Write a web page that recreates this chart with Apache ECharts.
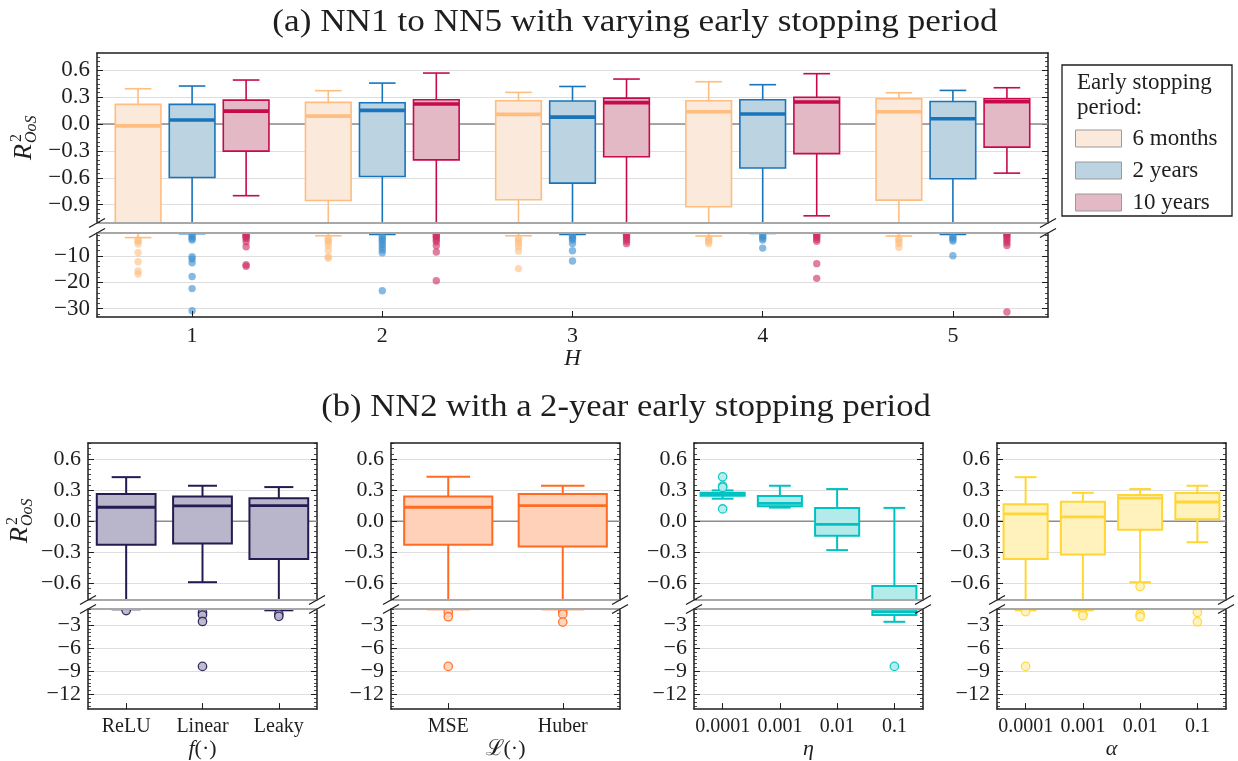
<!DOCTYPE html>
<html>
<head>
<meta charset="utf-8">
<script src="https://cdn.jsdelivr.net/npm/echarts@6/dist/echarts.min.js"></script>
<style>
  html, body { margin: 0; padding: 0; background: #ffffff; }
  #chart { width: 1238px; height: 761px; }
</style>
</head>
<body>
<div id="chart"></div>
<script>
// ---------------- data ----------------
// Box statistics: [lower whisker, Q1, median, Q3, upper whisker]
const H_LABELS = ['1', '2', '3', '4', '5'];

const BOX_6M = [
  [-3.0, -1.30, -0.020, 0.220, 0.395],
  [-2.3, -0.854, 0.089, 0.242, 0.373],
  [-2.3, -0.846, 0.108, 0.260, 0.354],
  [-2.4, -0.924, 0.138, 0.260, 0.473],
  [-2.4, -0.850, 0.138, 0.283, 0.350]
];
const BOX_2Y = [
  [-1.5, -0.596, 0.045, 0.220, 0.425],
  [-1.8, -0.585, 0.153, 0.239, 0.458],
  [-1.8, -0.660, 0.078, 0.257, 0.420],
  [-1.4, -0.490, 0.112, 0.272, 0.440],
  [-1.8, -0.610, 0.060, 0.253, 0.376]
];
const BOX_10Y = [
  [-0.800, -0.302, 0.145, 0.268, 0.492],
  [-1.30, -0.400, 0.224, 0.272, 0.570],
  [-1.30, -0.365, 0.240, 0.290, 0.503],
  [-1.025, -0.330, 0.246, 0.300, 0.563],
  [-0.548, -0.257, 0.250, 0.283, 0.406]
];

// Outliers per H
const OUT_6M = [
  [-3.9, -4.4, -5.4, -8.7, -12.2, -15.7, -16.8],
  [-3.3, -4.0, -4.8, -5.9, -7.8, -10.3, -10.8],
  [-3.3, -4.2, -5.2, -6.5, -8.1, -14.8],
  [-3.3, -3.8, -4.5, -5.3],
  [-3.3, -4.2, -5.2, -6.7]
];
const OUT_2Y = [
  [-2.0, -2.6, -3.3, -3.9, -10.3, -11.1, -12.6, -17.8, -22.4, -30.8],
  [-2.3, -3.0, -3.8, -4.6, -5.6, -6.6, -7.6, -8.8, -23.2],
  [-2.2, -2.7, -3.3, -3.9, -5.2, -8.0, -11.9],
  [-1.9, -2.5, -3.2, -3.9, -7.0],
  [-2.3, -2.9, -3.6, -4.3, -9.9]
];
const OUT_10Y = [
  [-1.3, -1.7, -2.1, -2.6, -3.0, -3.4, -4.6, -6.5, -13.3, -13.9],
  [-1.6, -2.0, -2.5, -3.1, -3.8, -4.6, -6.1, -8.5, -19.4],
  [-1.5, -1.9, -2.4, -2.9, -3.6, -4.4, -5.3],
  [-1.3, -1.8, -2.3, -2.9, -3.6, -4.4, -12.9, -18.5],
  [-1.3, -1.6, -2.0, -2.6, -3.3, -4.1, -5.0, -6.0, -31.3]
];

// NN2, 2-year early stopping: activation, loss, learning rate, regularisation
const ACT_LABELS = ['ReLU', 'Linear', 'Leaky'];
const ACT_BOX = [
  [-0.97, -0.227, 0.134, 0.262, 0.425],
  [-0.59, -0.217, 0.147, 0.239, 0.342],
  [-1.10, -0.367, 0.150, 0.220, 0.329]
];
const ACT_OUT = [[-1.14], [-1.39, -1.72, -2.55, -8.37], [-1.6, -1.89]];

const LOSS_LABELS = ['MSE', 'Huber'];
const LOSS_BOX = [
  [-0.97, -0.227, 0.134, 0.239, 0.428],
  [-0.97, -0.246, 0.150, 0.262, 0.342]
];
const LOSS_OUT = [[-1.39, -1.93, -8.37], [-1.27, -1.6, -2.63]];

const LR_LABELS = ['0.0001', '0.001', '0.01', '0.1'];
const LR_BOX = [
  [0.217, 0.246, 0.262, 0.274, 0.297],
  [0.131, 0.144, 0.172, 0.243, 0.342],
  [-0.280, -0.140, -0.032, 0.128, 0.310],
  [-2.59, -1.72, -1.27, -0.626, 0.128]
];
const LR_OUT = [[0.428, 0.338, 0.326, 0.118], [], [], [-8.37]];

const REG_LABELS = ['0.0001', '0.001', '0.01', '0.1'];
const REG_BOX = [
  [-1.10, -0.367, 0.070, 0.163, 0.425],
  [-1.10, -0.322, 0.041, 0.188, 0.274],
  [-0.590, -0.083, 0.223, 0.252, 0.310],
  [-0.204, 0.019, 0.185, 0.271, 0.342]
];
const REG_OUT = [[-1.27, -8.37], [-1.6, -1.8], [-0.632, -1.6, -1.93], [-1.39, -2.59]];

// Tick values shown on the broken axes
const TICKS_A_UP = [-0.9, -0.6, -0.3, 0.0, 0.3, 0.6];
const TICKS_A_LOW = [-30, -20, -10];
const TICKS_B_UP = [-0.6, -0.3, 0.0, 0.3, 0.6];
const TICKS_B_LOW = [-12, -9, -6, -3];

// ---------------- styling ----------------
const FONT = '"Liberation Serif", "DejaVu Serif", serif';
const INK = '#1e1e1e';
const SPINE_BLACK = { color: INK, width: 1.5 };
const SPINE_GRAY = { color: '#a8a8a8', width: 2 };

const grids = [], xAxes = [], yAxes = [], series = [];

function fmtTick(dec) {
  return function (v) {
    const s = Math.abs(v).toFixed(dec);
    return (v < -1e-9 ? '\u2212' : '') + s;
  };
}

// One panel = an upper grid and a lower grid sharing the same categories
function buildPanel(p) {
  const out = {};
  [['up', p.up], ['low', p.low]].forEach(function (pair) {
    const key = pair[0], g = pair[1];
    const isUp = key === 'up';
    const gi = grids.length;
    grids.push({ left: p.left, top: g.top, width: p.width, height: g.height, containLabel: false });
    const xi = xAxes.length;
    xAxes.push({
      type: 'category', gridIndex: gi, data: p.cats, position: 'bottom', boundaryGap: true, z: 5,
      axisLine: { show: true, onZero: false, lineStyle: isUp ? SPINE_GRAY : SPINE_BLACK },
      axisTick: { show: !isUp, inside: true, alignWithLabel: true, length: 6, lineStyle: { color: INK, width: 1 } },
      axisLabel: { show: !isUp, interval: 0, margin: 8, fontSize: p.labelSize, fontFamily: FONT, color: INK },
      splitLine: { show: false },
      name: isUp ? '' : p.xName, nameLocation: 'middle', nameGap: p.nameGap,
      nameTextStyle: { fontFamily: FONT, fontSize: p.nameSize, color: INK, fontStyle: p.nameItalic ? 'italic' : 'normal',
        rich: { i: { fontFamily: FONT, fontSize: p.nameSize, fontStyle: 'italic', color: INK } } }
    });
    xAxes.push({
      type: 'category', gridIndex: gi, data: p.cats, position: 'top', boundaryGap: true, z: 5,
      axisLine: { show: true, onZero: false, lineStyle: isUp ? SPINE_BLACK : SPINE_GRAY },
      axisTick: { show: false }, axisLabel: { show: false }, splitLine: { show: false }
    });
    const yi = yAxes.length;
    const base = { type: 'value', gridIndex: gi, min: g.min, max: g.max, splitNumber: g.split };
    yAxes.push(Object.assign({}, base, {
      position: 'left', z: 5,
      axisLine: { show: true, onZero: false, lineStyle: SPINE_BLACK },
      axisTick: { show: true, inside: true, length: 6, customValues: g.ticks, lineStyle: { color: INK, width: 1 } },
      minorTick: { show: true, splitNumber: g.minor, length: 3, lineStyle: { color: INK, width: 0.8 } },
      axisLabel: { show: true, customValues: g.ticks, margin: 7, fontSize: p.tickSize, fontFamily: FONT, color: INK,
        formatter: fmtTick(g.dec) },
      splitLine: { show: false }
    }));
    yAxes.push(Object.assign({}, base, {
      position: 'right', z: 0,
      axisLine: { show: true, onZero: false, lineStyle: SPINE_BLACK },
      axisTick: { show: true, inside: true, length: 6, customValues: g.ticks, lineStyle: { color: INK, width: 1 } },
      minorTick: { show: true, splitNumber: g.minor, length: 3, lineStyle: { color: INK, width: 0.8 } },
      axisLabel: { show: false },
      splitLine: { show: true, lineStyle: { color: '#dedede', width: 1.2 } }
    }));
    out[key] = { x: xi, y: yi };
  });
  // zero reference line in the upper part
  series.push({
    type: 'custom', xAxisIndex: out.up.x, yAxisIndex: out.up.y, z: 1, silent: true, clip: true,
    data: [[0, 0]],
    renderItem: function (params, api) {
      const cs = params.coordSys;
      const y = api.coord([0, 0])[1];
      return { type: 'line', shape: { x1: cs.x, y1: y, x2: cs.x + cs.width, y2: y },
        style: { stroke: '#8c8c8c', lineWidth: 1.5 } };
    }
  });
  return out;
}

function boxRenderer(o) {
  return function (params, api) {
    const cat = api.value(0);
    const band = api.size([1, 0])[0];
    const cx = api.coord([cat, 0])[0] + o.offset * band;
    const half = band * o.boxFrac / 2;
    const cap = band * o.capFrac / 2;
    const y = function (i) { return api.coord([cat, api.value(i)])[1]; };
    const lo = y(1), q1 = y(2), md = y(3), q3 = y(4), hi = y(5);
    const ls = { stroke: o.stroke, lineWidth: o.lw };
    return {
      type: 'group',
      children: [
        { type: 'line', shape: { x1: cx, y1: q3, x2: cx, y2: hi }, style: ls },
        { type: 'line', shape: { x1: cx, y1: q1, x2: cx, y2: lo }, style: ls },
        { type: 'line', shape: { x1: cx - cap, y1: hi, x2: cx + cap, y2: hi }, style: ls },
        { type: 'line', shape: { x1: cx - cap, y1: lo, x2: cx + cap, y2: lo }, style: ls },
        { type: 'rect', shape: { x: cx - half, y: q3, width: 2 * half, height: q1 - q3 },
          style: { fill: o.fill, stroke: o.stroke, lineWidth: o.lw } },
        { type: 'line', shape: { x1: cx - half, y1: md, x2: cx + half, y2: md },
          style: { stroke: o.stroke, lineWidth: o.medLw } }
      ]
    };
  };
}

function dotRenderer(o) {
  return function (params, api) {
    const cat = api.value(0);
    const band = api.size([1, 0])[0];
    const pt = api.coord([cat, api.value(1)]);
    return { type: 'circle', shape: { cx: pt[0] + o.offset * band, cy: pt[1], r: o.r },
      style: { fill: o.dotFill, stroke: o.dotStroke || null, lineWidth: o.dotLw || 0, opacity: o.opacity } };
  };
}

function addGroup(panel, name, boxes, outliers, o) {
  const boxData = boxes.map(function (b, i) { return [i].concat(b); });
  const dotData = [];
  outliers.forEach(function (vals, i) { vals.forEach(function (v) { dotData.push([i, v]); }); });
  ['up', 'low'].forEach(function (k) {
    series.push({
      type: 'custom', name: name, xAxisIndex: panel[k].x, yAxisIndex: panel[k].y, z: 3, clip: true, silent: true,
      itemStyle: { color: o.fill, borderColor: o.stroke },
      encode: { x: 0, y: [1, 2, 3, 4, 5] },
      data: boxData, renderItem: boxRenderer(o)
    });
    series.push({
      type: 'custom', name: name, xAxisIndex: panel[k].x, yAxisIndex: panel[k].y, z: 4, clip: true, silent: true,
      itemStyle: { color: o.fill, borderColor: o.stroke },
      encode: { x: 0, y: 1 },
      data: dotData, renderItem: dotRenderer(o)
    });
  });
}

// ---------------- panel (a) ----------------
const panelA = buildPanel({
  left: 97, width: 951, cats: H_LABELS, labelSize: 22, tickSize: 23,
  up: { top: 53, height: 170, min: -1.105, max: 0.794, split: 6, ticks: TICKS_A_UP, minor: 6, dec: 1 },
  low: { top: 233, height: 84, min: -33.2, max: -1.25, split: 3, ticks: TICKS_A_LOW, minor: 5, dec: 0 },
  xName: 'H', nameItalic: true, nameSize: 23, nameGap: 21
});

const PERIODS = [
  { name: '6 months', boxes: BOX_6M, out: OUT_6M, offset: -0.284, stroke: '#ffbd7f', fill: '#fbe9dc', dot: '#ffbf80' },
  { name: '2 years', boxes: BOX_2Y, out: OUT_2Y, offset: 0, stroke: '#1874bb', fill: '#bcd3e2', dot: '#3b8fd0' },
  { name: '10 years', boxes: BOX_10Y, out: OUT_10Y, offset: 0.284, stroke: '#c70a4c', fill: '#e4b9c6', dot: '#cf2f66' }
];
PERIODS.forEach(function (p) {
  addGroup(panelA, p.name, p.boxes, p.out, {
    offset: p.offset, boxFrac: 0.24, capFrac: 0.14, stroke: p.stroke, fill: p.fill,
    lw: 1.6, medLw: 3.6, r: 3.7, opacity: 0.62, dotFill: p.dot
  });
});

// ---------------- panel (b) ----------------
const B_LEFTS = [88, 391, 694, 997];
const B_SUBPLOTS = [
  { cats: ACT_LABELS, boxes: ACT_BOX, out: ACT_OUT, xName: '{i|f}(\u00b7)', stroke: '#221c50', fill: '#b9b5ca' },
  { cats: LOSS_LABELS, boxes: LOSS_BOX, out: LOSS_OUT, xName: '\u2112(\u00b7)', stroke: '#ff6b22', fill: '#ffd1b8' },
  { cats: LR_LABELS, boxes: LR_BOX, out: LR_OUT, xName: '{i|\u03b7}', stroke: '#00c2c2', fill: '#b3ebea' },
  { cats: REG_LABELS, boxes: REG_BOX, out: REG_OUT, xName: '{i|\u03b1}', stroke: '#ffd633', fill: '#fff2bc' }
];
B_SUBPLOTS.forEach(function (s, k) {
  const panel = buildPanel({
    left: B_LEFTS[k], width: 229, cats: s.cats, labelSize: 20, tickSize: 22,
    up: { top: 443, height: 157, min: -0.762, max: 0.755, split: 5, ticks: TICKS_B_UP, minor: 6, dec: 1 },
    low: { top: 609, height: 105, min: -13.9, max: -0.93, split: 4, ticks: TICKS_B_LOW, minor: 6, dec: 0 },
    xName: s.xName, nameItalic: false, nameSize: 22, nameGap: 18
  });
  addGroup(panel, 'b' + k, s.boxes, s.out, {
    offset: 0, boxFrac: 0.77, capFrac: 0.38, stroke: s.stroke, fill: s.fill,
    lw: 2, medLw: 2.8, r: 4.2, opacity: 0.9, dotFill: s.fill, dotStroke: s.stroke, dotLw: 1.3
  });
});

// ---------------- decorations ----------------
function breakMarks(xs, yA, yB) {
  const els = [];
  xs.forEach(function (x) {
    [yA, yB].forEach(function (y) {
      els.push({ type: 'line', silent: true, z: 10,
        shape: { x1: x - 8, y1: y + 4.5, x2: x + 8, y2: y - 4.5 },
        style: { stroke: INK, lineWidth: 1.3 } });
    });
  });
  return els;
}

function yLabel(x, y) {
  return {
    type: 'group', x: x, y: y, rotation: Math.PI / 2, silent: true,
    children: [
      { type: 'text', x: 0, y: 0, style: { text: 'R', fontFamily: FONT, fontStyle: 'italic', fontSize: 26,
        fill: INK, align: 'left', verticalAlign: 'middle' } },
      { type: 'text', x: 18, y: -7, style: { text: '2', fontFamily: FONT, fontSize: 16,
        fill: INK, align: 'left', verticalAlign: 'middle' } },
      { type: 'text', x: 17, y: 8, style: { text: 'OoS', fontFamily: FONT, fontStyle: 'italic', fontSize: 16,
        fill: INK, align: 'left', verticalAlign: 'middle' } }
    ]
  };
}

const graphics = [
  { type: 'text', x: 635, y: 23, scaleX: 1.1, silent: true,
    style: { text: '(a) NN1 to NN5 with varying early stopping period', fontFamily: FONT, fontSize: 32,
      fill: INK, align: 'center', verticalAlign: 'middle' } },
  { type: 'text', x: 626, y: 408, scaleX: 1.08, silent: true,
    style: { text: '(b) NN2 with a 2-year early stopping period', fontFamily: FONT, fontSize: 32,
      fill: INK, align: 'center', verticalAlign: 'middle' } },
  yLabel(24, 160),
  yLabel(20, 543),
  // legend frame and heading
  { type: 'rect', z: 0, silent: true, shape: { x: 1062, y: 65, width: 170, height: 151 },
    style: { fill: '#ffffff', stroke: INK, lineWidth: 1.3 } },
  { type: 'text', x: 1077, y: 83, silent: true,
    style: { text: 'Early stopping', fontFamily: FONT, fontSize: 23, fill: INK, align: 'left', verticalAlign: 'middle' } },
  { type: 'text', x: 1077, y: 108, silent: true,
    style: { text: 'period:', fontFamily: FONT, fontSize: 23, fill: INK, align: 'left', verticalAlign: 'middle' } }
].concat(
  breakMarks([97, 1048], 223, 233),
  breakMarks([88, 317, 391, 620, 694, 923, 997, 1226], 600, 609)
);

const option = {
  animation: false,
  backgroundColor: '#ffffff',
  grid: grids,
  xAxis: xAxes,
  yAxis: yAxes,
  series: series,
  legend: {
    show: true, orient: 'vertical', left: 1070, top: 122, selectedMode: false,
    itemWidth: 46, itemHeight: 17, itemGap: 9, icon: 'rect',
    textStyle: { fontFamily: FONT, fontSize: 23, color: INK, padding: [0, 0, 0, 6] },
    data: PERIODS.map(function (p) {
      return { name: p.name, icon: 'rect', itemStyle: { color: p.fill, borderColor: '#9a9a9a', borderWidth: 1 } };
    })
  },
  graphic: { elements: graphics }
};

const chart = echarts.init(document.getElementById('chart'), null, { renderer: 'canvas' });
chart.setOption(option);
</script>
</body>
</html>
